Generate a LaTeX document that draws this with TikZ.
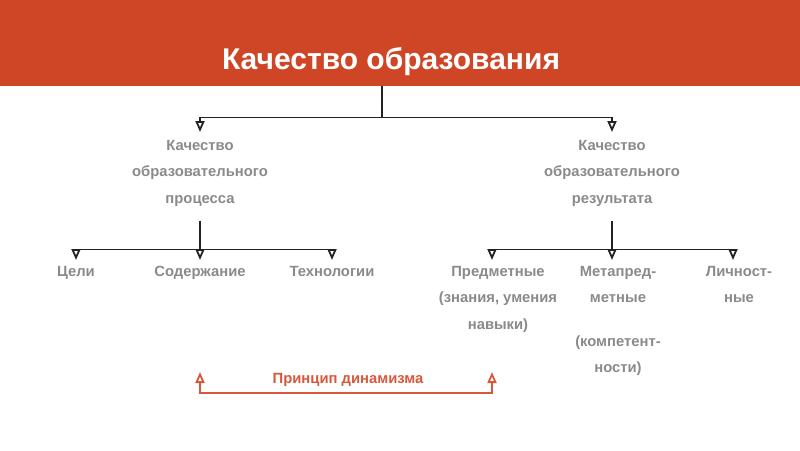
\documentclass[tikz,border=0pt]{standalone}
\usepackage{fontspec}
\setmainfont{Liberation Sans}
\usetikzlibrary{arrows.meta,positioning,calc}
\definecolor{cBand}{HTML}{CF4626}
\definecolor{cText}{HTML}{8A8A8A}
\definecolor{cLine}{HTML}{222222}
\definecolor{cAcc} {HTML}{D9573B}
\tikzset{
  band/.style ={fill=cBand,draw=none,minimum width=800pt,minimum height=86pt,inner sep=0pt},
  ttl/.style  ={font=\fontsize{30}{32}\selectfont\bfseries,text=white,inner sep=0pt},
  lbl/.style  ={font=\fontsize{14.8}{26.5}\selectfont\bfseries,text=cText,align=center,
                inner xsep=0pt,inner ysep=8pt},
  sub/.style  ={lbl,inner ysep=6pt},
  lin/.style  ={draw=cLine,line width=1.8pt},
  arr/.style  ={lin,-{Triangle[open,length=11pt,width=9pt]}},
  dyn/.style  ={draw=cAcc,line width=1.8pt,
                {Triangle[open,length=11pt,width=9pt]}-{Triangle[open,length=11pt,width=9pt]}},
  dyntxt/.style={font=\fontsize{14.8}{16}\selectfont\bfseries,text=cAcc,inner sep=0pt},
}

\begin{document}
\begin{tikzpicture}[x=1pt,y=-1pt]
\useasboundingbox (0,0) rectangle (800,450);

% ===== heading band ========================================================
\node[band,anchor=north west] (head) at (0,0) {};
\node[ttl,anchor=base] (title) at (391,69) {Качество образования};

% ===== first level =========================================================
\coordinate (root) at (head.south -| 382,0);
\coordinate (fork) at (382,117.5);
\node[lbl,anchor=north] (kproc) at (200,132) {Качество\\образовательного\\процесса};
\node[lbl,anchor=north] (kres)  at (612,132) {Качество\\образовательного\\результата};
\draw[lin] (root) -- (fork);
\draw[arr] (fork) -| (kproc.north);
\draw[arr] (fork) -| (kres.north);

% ===== process branch ======================================================
\coordinate (lfork) at (200,249.5);
\node[sub,anchor=north] (aims) at (76,260)  {Цели};
\node[sub,anchor=north] (cont) at (200,260) {Содержание};
\node[sub,anchor=north] (tech) at (332,260) {Технологии};
\draw[arr] (lfork) -| (aims.north);
\draw[arr] (lfork) -| (tech.north);
\draw[arr] ([yshift=-6pt]kproc.south) -- (cont.north);

% ===== result branch =======================================================
\coordinate (rfork) at (612,249.5);
\node[sub,anchor=north] (subj) at (498,260) {Предметные\\(знания, умения\\навыки)};
\node[sub,anchor=north] (meta) at (618,260) {Метапред-\\метные\\[17pt](компетент-\\ности)};
\node[sub,anchor=north] (pers) at (739,260) {Личност-\\ные};
\draw[arr] (rfork) -| ([xshift=-6pt]subj.north);
\draw[arr] (rfork) -| ([xshift=-6pt]pers.north);
\draw[arr] ([yshift=-6pt]kres.south) -- ([xshift=-6pt]meta.north);

% ===== principle of dynamism ===============================================
\node[dyntxt,anchor=base] (dyntext) at (348,383) {Принцип динамизма};
\coordinate (dynA) at (cont.north |- 0,372);
\coordinate (dynB) at ([xshift=-6pt]subj.north |- 0,372);
\draw[dyn] (dynA) -- ++(0,21) -| (dynB);
\end{tikzpicture}
\end{document}
